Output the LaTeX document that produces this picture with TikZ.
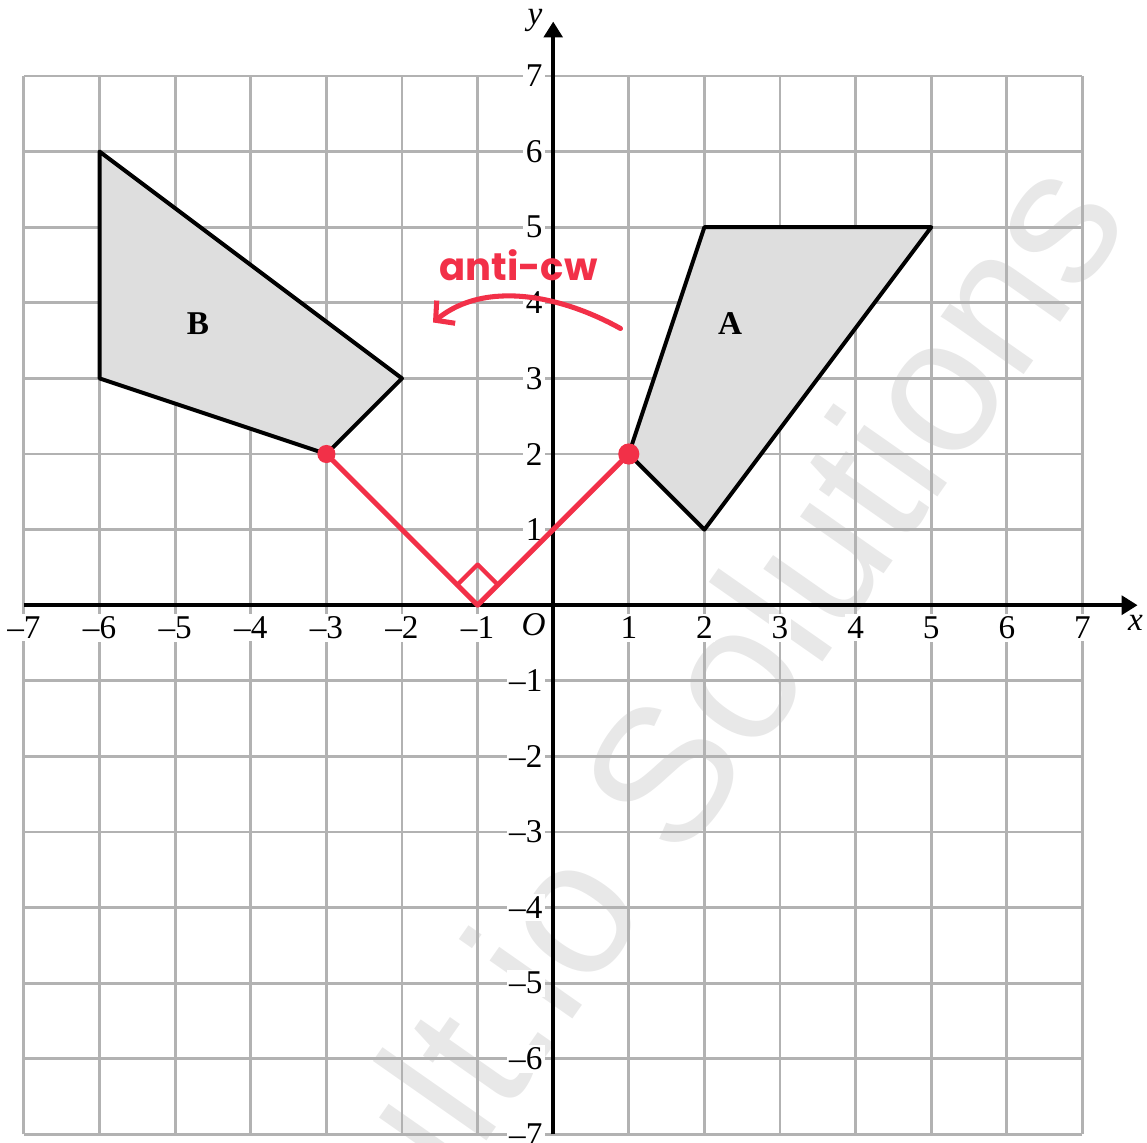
\documentclass[tikz,border=0pt]{standalone}
\usepackage{fontspec}
\setmainfont{Liberation Serif}
\newfontfamily\handfont{Poppins}
\newfontfamily\markfont{Liberation Sans}
\usetikzlibrary{arrows.meta,angles}

\definecolor{penred}{RGB}{242,48,72}
\definecolor{shade}{RGB}{222,222,222}
\definecolor{gridgray}{RGB}{178,178,178}
\definecolor{markgray}{RGB}{232,232,232}

\begin{document}
\begin{tikzpicture}[
    >=Stealth,
    line join=round,
    font=\fontsize{12.5}{15}\selectfont,
    gridline/.style={gridgray, line width=1.1pt},
    axisline/.style={line width=1.5pt, -{Triangle[length=6pt,width=7pt]}},
    shapeline/.style={line width=1.5pt, fill=shade},
    ticklabel/.style={fill=white, inner sep=1pt},
    redpen/.style={penred, line width=1.9pt, line cap=round}
]
\useasboundingbox (-7.317,-7.101) rectangle (7.854,8.005);

% ======================================
% 水印
% ======================================
\node[text=markgray, rotate=55, font=\markfont\fontsize{72}{80}\selectfont]
    (wm) at (2.20,-1.12) {ult.io Solutions};

% ======================================
% 网格
% ======================================
\draw[gridline] (-7,-7) grid (7,7);

% ======================================
% 图形 A 和 B
% ======================================
\coordinate (A1) at (1,2);
\coordinate (A2) at (2,5);
\coordinate (A3) at (5,5);
\coordinate (A4) at (2,1);
\draw[shapeline] (A1) -- (A2) -- (A3) -- (A4) -- cycle;
\node[font=\bfseries\fontsize{12.5}{15}\selectfont] (labA) at (2.34,3.73) {A};

\coordinate (B1) at (-6,6);
\coordinate (B2) at (-6,3);
\coordinate (B3) at (-3,2);
\coordinate (B4) at (-2,3);
\draw[shapeline] (B1) -- (B2) -- (B3) -- (B4) -- cycle;
\node[font=\bfseries\fontsize{12.5}{15}\selectfont] (labB) at (-4.70,3.73) {B};

% ======================================
% 坐标轴
% ======================================
\coordinate (O) at (0,0);
\draw[axisline] (-7,0) -- (7.73,0);
\draw[axisline] (0,-7) -- (0,7.72);
\node (xlab) at (7.70,-0.24) {\textit{x}};
\node (ylab) at (-0.24,7.74) {\textit{y}};
\node (olab) at (-0.26,-0.26) {\textit{O}};

\foreach \n in {1,...,7} {
    \node[ticklabel] (xp\n) at (\n,-0.30) {\n};
    \node[ticklabel] (xm\n) at (-\n,-0.30) {--\n};
    \node[ticklabel, anchor=east] (yp\n) at (-0.10,\n) {\n};
    \node[ticklabel, anchor=east] (ym\n) at (-0.10,-\n) {--\n};
}

% ======================================
% 旋转中心 (-1,0)
% ======================================
\coordinate (P) at (-3,2);
\coordinate (C) at (-1,0);
\coordinate (Q) at (1,2);
\draw[redpen] (P) -- (C) -- (Q);
\draw pic[draw, redpen, line width=1.6pt, angle radius=0.38cm] {right angle = P--C--Q};
\fill[penred] (P) circle (0.12);
\fill[penred] (Q) circle (0.14);

% 逆时针箭头
\coordinate (arcS) at (0.89,3.66);
\coordinate (arcE) at (-1.59,3.74);
\draw[redpen, -{Straight Barb[length=5pt,width=11pt]}]
    (arcS) .. controls (0.1,4.1) and (-0.9,4.3) .. (arcE);
\node[penred, font=\handfont\bfseries\fontsize{14.5}{17}\selectfont] (rot) at (-0.46,4.50) {anti-cw};

\end{tikzpicture}
\end{document}
